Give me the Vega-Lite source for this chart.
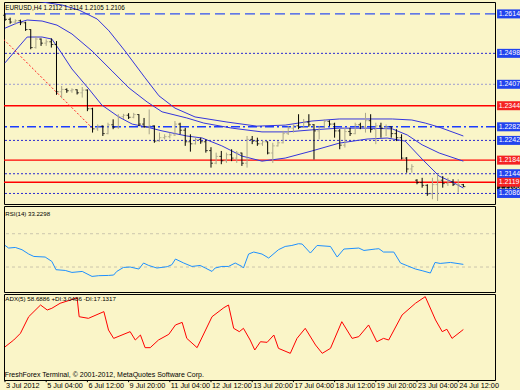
{
"$schema":"https://vega.github.io/schema/vega-lite/v6.json",
"background":"#FAF5C8",
"padding":{"left":2,"top":1,"right":0,"bottom":0},
"bounds":"flush",
"spacing":2,
"config":{"view":{"stroke":"#000000","strokeWidth":1,"fill":"#FAF5C8"},"font":"Liberation Sans"},
"datasets":{
"candles":[
{"i":0,"o":1.2610,"h":1.2615,"l":1.2593,"c":1.2598},
{"i":1,"o":1.2598,"h":1.2603,"l":1.2585,"c":1.2590},
{"i":2,"o":1.2590,"h":1.2598,"l":1.2583,"c":1.2594},
{"i":3,"o":1.2594,"h":1.2597,"l":1.2581,"c":1.2588},
{"i":4,"o":1.2588,"h":1.2591,"l":1.2564,"c":1.2568},
{"i":5,"o":1.2568,"h":1.2569,"l":1.2510,"c":1.2515},
{"i":6,"o":1.2515,"h":1.2549,"l":1.2512,"c":1.2540},
{"i":7,"o":1.2540,"h":1.2542,"l":1.2520,"c":1.2528},
{"i":8,"o":1.2528,"h":1.2539,"l":1.2520,"c":1.2532},
{"i":9,"o":1.2532,"h":1.2542,"l":1.2515,"c":1.2524},
{"i":10,"o":1.2524,"h":1.2534,"l":1.2376,"c":1.2385},
{"i":11,"o":1.2385,"h":1.2402,"l":1.2366,"c":1.2392},
{"i":12,"o":1.2392,"h":1.2395,"l":1.2382,"c":1.2388},
{"i":13,"o":1.2388,"h":1.2395,"l":1.2382,"c":1.2391},
{"i":14,"o":1.2391,"h":1.2392,"l":1.2377,"c":1.2382},
{"i":15,"o":1.2382,"h":1.2399,"l":1.2368,"c":1.2390},
{"i":16,"o":1.2390,"h":1.2392,"l":1.2328,"c":1.2335},
{"i":17,"o":1.2335,"h":1.2338,"l":1.2265,"c":1.2276},
{"i":18,"o":1.2276,"h":1.2289,"l":1.2270,"c":1.2284},
{"i":19,"o":1.2284,"h":1.2286,"l":1.2255,"c":1.2262},
{"i":20,"o":1.2262,"h":1.2294,"l":1.2260,"c":1.2288},
{"i":21,"o":1.2288,"h":1.2304,"l":1.2275,"c":1.2281},
{"i":22,"o":1.2281,"h":1.2319,"l":1.2276,"c":1.2312},
{"i":23,"o":1.2312,"h":1.2320,"l":1.2305,"c":1.2316},
{"i":24,"o":1.2316,"h":1.2322,"l":1.2305,"c":1.2310},
{"i":25,"o":1.2310,"h":1.2323,"l":1.2307,"c":1.2318},
{"i":26,"o":1.2318,"h":1.2319,"l":1.2284,"c":1.2290},
{"i":27,"o":1.2290,"h":1.2308,"l":1.2279,"c":1.2282},
{"i":28,"o":1.2282,"h":1.2333,"l":1.2260,"c":1.2285},
{"i":29,"o":1.2285,"h":1.2286,"l":1.2235,"c":1.2240},
{"i":30,"o":1.2240,"h":1.2265,"l":1.2238,"c":1.2250},
{"i":31,"o":1.2250,"h":1.2260,"l":1.2245,"c":1.2253},
{"i":32,"o":1.2253,"h":1.2265,"l":1.2248,"c":1.2258},
{"i":33,"o":1.2258,"h":1.2299,"l":1.2255,"c":1.2290},
{"i":34,"o":1.2290,"h":1.2294,"l":1.2260,"c":1.2272},
{"i":35,"o":1.2272,"h":1.2279,"l":1.2226,"c":1.2238},
{"i":36,"o":1.2238,"h":1.2260,"l":1.2209,"c":1.2232},
{"i":37,"o":1.2232,"h":1.2250,"l":1.2230,"c":1.2245},
{"i":38,"o":1.2245,"h":1.2250,"l":1.2232,"c":1.2238},
{"i":39,"o":1.2238,"h":1.2245,"l":1.2206,"c":1.2212},
{"i":40,"o":1.2212,"h":1.2222,"l":1.2162,"c":1.2175},
{"i":41,"o":1.2175,"h":1.2206,"l":1.2172,"c":1.2195},
{"i":42,"o":1.2195,"h":1.2211,"l":1.2172,"c":1.2182},
{"i":43,"o":1.2182,"h":1.2206,"l":1.2176,"c":1.2200},
{"i":44,"o":1.2200,"h":1.2216,"l":1.2181,"c":1.2190},
{"i":45,"o":1.2190,"h":1.2211,"l":1.2176,"c":1.2205},
{"i":46,"o":1.2205,"h":1.2206,"l":1.2167,"c":1.2175},
{"i":47,"o":1.2175,"h":1.2255,"l":1.2162,"c":1.2245},
{"i":48,"o":1.2245,"h":1.2255,"l":1.2231,"c":1.2240},
{"i":49,"o":1.2240,"h":1.2250,"l":1.2226,"c":1.2232},
{"i":50,"o":1.2232,"h":1.2242,"l":1.2226,"c":1.2238},
{"i":51,"o":1.2238,"h":1.2239,"l":1.2201,"c":1.2205},
{"i":52,"o":1.2205,"h":1.2235,"l":1.2176,"c":1.2226},
{"i":53,"o":1.2226,"h":1.2240,"l":1.2224,"c":1.2235},
{"i":54,"o":1.2235,"h":1.2270,"l":1.2233,"c":1.2262},
{"i":55,"o":1.2262,"h":1.2284,"l":1.2258,"c":1.2278},
{"i":56,"o":1.2278,"h":1.2289,"l":1.2265,"c":1.2285},
{"i":57,"o":1.2285,"h":1.2319,"l":1.2275,"c":1.2280},
{"i":58,"o":1.2280,"h":1.2305,"l":1.2279,"c":1.2296},
{"i":59,"o":1.2296,"h":1.2319,"l":1.2282,"c":1.2288},
{"i":60,"o":1.2288,"h":1.2290,"l":1.2186,"c":1.2270},
{"i":61,"o":1.2270,"h":1.2284,"l":1.2245,"c":1.2280},
{"i":62,"o":1.2280,"h":1.2304,"l":1.2278,"c":1.2298},
{"i":63,"o":1.2298,"h":1.2301,"l":1.2284,"c":1.2290},
{"i":64,"o":1.2290,"h":1.2294,"l":1.2250,"c":1.2270},
{"i":65,"o":1.2270,"h":1.2275,"l":1.2216,"c":1.2228},
{"i":66,"o":1.2228,"h":1.2279,"l":1.2221,"c":1.2268},
{"i":67,"o":1.2268,"h":1.2279,"l":1.2255,"c":1.2262},
{"i":68,"o":1.2262,"h":1.2294,"l":1.2260,"c":1.2288},
{"i":69,"o":1.2288,"h":1.2294,"l":1.2275,"c":1.2282},
{"i":70,"o":1.2282,"h":1.2323,"l":1.2265,"c":1.2300},
{"i":71,"o":1.2300,"h":1.2319,"l":1.2265,"c":1.2274},
{"i":72,"o":1.2274,"h":1.2294,"l":1.2231,"c":1.2285},
{"i":73,"o":1.2285,"h":1.2294,"l":1.2250,"c":1.2278},
{"i":74,"o":1.2278,"h":1.2289,"l":1.2255,"c":1.2282},
{"i":75,"o":1.2282,"h":1.2283,"l":1.2250,"c":1.2262},
{"i":76,"o":1.2262,"h":1.2275,"l":1.2240,"c":1.2250},
{"i":77,"o":1.2250,"h":1.2260,"l":1.2186,"c":1.2190},
{"i":78,"o":1.2190,"h":1.2193,"l":1.2147,"c":1.2158},
{"i":79,"o":1.2158,"h":1.2172,"l":1.2147,"c":1.2165},
{"i":80,"o":1.2125,"h":1.2128,"l":1.2113,"c":1.2118},
{"i":81,"o":1.2118,"h":1.2132,"l":1.2103,"c":1.2110},
{"i":82,"o":1.2110,"h":1.2113,"l":1.2079,"c":1.2085},
{"i":83,"o":1.2085,"h":1.2132,"l":1.2069,"c":1.2112},
{"i":84,"o":1.2112,"h":1.2142,"l":1.2064,"c":1.2125},
{"i":85,"o":1.2125,"h":1.2137,"l":1.2103,"c":1.2115},
{"i":86,"o":1.2115,"h":1.2132,"l":1.2108,"c":1.2120},
{"i":87,"o":1.2120,"h":1.2128,"l":1.2108,"c":1.2112},
{"i":88,"o":1.2112,"h":1.2128,"l":1.2088,"c":1.2112},
{"i":89,"o":1.2112,"h":1.2114,"l":1.2105,"c":1.2106}
],
"bands":[
{"band":"upper","i":0,"v":1.2670},{"band":"upper","i":3.3,"v":1.2655},{"band":"upper","i":7.2,"v":1.2649},{"band":"upper","i":11.1,"v":1.2640},{"band":"upper","i":14.4,"v":1.2625},{"band":"upper","i":17.9,"v":1.2599},{"band":"upper","i":20.2,"v":1.2564},{"band":"upper","i":23.3,"v":1.2505},{"band":"upper","i":27.2,"v":1.2426},{"band":"upper","i":29.9,"v":1.2373},{"band":"upper","i":33,"v":1.2337},{"band":"upper","i":36.9,"v":1.2311},{"band":"upper","i":43.1,"v":1.2296},{"band":"upper","i":48.9,"v":1.2284},{"band":"upper","i":54.4,"v":1.2287},{"band":"upper","i":59.6,"v":1.2299},{"band":"upper","i":64.9,"v":1.2305},{"band":"upper","i":70.3,"v":1.2305},{"band":"upper","i":75.2,"v":1.2305},{"band":"upper","i":79,"v":1.2302},{"band":"upper","i":81.6,"v":1.2293},{"band":"upper","i":84.3,"v":1.2281},{"band":"upper","i":89,"v":1.2255},
{"band":"middle","i":0,"v":1.2572},{"band":"middle","i":2.3,"v":1.2587},{"band":"middle","i":4.3,"v":1.2596},{"band":"middle","i":7.2,"v":1.2593},{"band":"middle","i":10.1,"v":1.2581},{"band":"middle","i":13,"v":1.2555},{"band":"middle","i":16.9,"v":1.2505},{"band":"middle","i":20.8,"v":1.2446},{"band":"middle","i":24.1,"v":1.2396},{"band":"middle","i":27.6,"v":1.2355},{"band":"middle","i":30.5,"v":1.2326},{"band":"middle","i":35.3,"v":1.2308},{"band":"middle","i":38.6,"v":1.2293},{"band":"middle","i":44.1,"v":1.2278},{"band":"middle","i":49.9,"v":1.2267},{"band":"middle","i":54.8,"v":1.2267},{"band":"middle","i":59.6,"v":1.2273},{"band":"middle","i":64.9,"v":1.2278},{"band":"middle","i":70.3,"v":1.2278},{"band":"middle","i":75.2,"v":1.2276},{"band":"middle","i":78.1,"v":1.2258},{"band":"middle","i":81,"v":1.2229},{"band":"middle","i":84.3,"v":1.2205},{"band":"middle","i":89,"v":1.2181},
{"band":"lower","i":0,"v":1.2470},{"band":"lower","i":2.3,"v":1.2511},{"band":"lower","i":4.3,"v":1.2546},{"band":"lower","i":7.2,"v":1.2546},{"band":"lower","i":9.1,"v":1.2540},{"band":"lower","i":10.7,"v":1.2505},{"band":"lower","i":13,"v":1.2452},{"band":"lower","i":16.3,"v":1.2393},{"band":"lower","i":18.8,"v":1.2346},{"band":"lower","i":22.1,"v":1.2311},{"band":"lower","i":24.7,"v":1.2290},{"band":"lower","i":27.6,"v":1.2281},{"band":"lower","i":30.5,"v":1.2270},{"band":"lower","i":35.3,"v":1.2255},{"band":"lower","i":38.3,"v":1.2249},{"band":"lower","i":42.1,"v":1.2226},{"band":"lower","i":46,"v":1.2196},{"band":"lower","i":49.9,"v":1.2181},{"band":"lower","i":54.4,"v":1.2190},{"band":"lower","i":59.6,"v":1.2211},{"band":"lower","i":64.9,"v":1.2234},{"band":"lower","i":70.3,"v":1.2246},{"band":"lower","i":74.2,"v":1.2249},{"band":"lower","i":77.7,"v":1.2240},{"band":"lower","i":81,"v":1.2187},{"band":"lower","i":84.3,"v":1.2137},{"band":"lower","i":86.8,"v":1.2120},{"band":"lower","i":89,"v":1.2102}
],
"trend":[{"i":-0.25,"v":1.2539},{"i":16.9,"v":1.2279}],
"levels":[
{"price":1.2106,"kind":"last"},
{"price":1.2614,"kind":"dash"},
{"price":1.2498,"kind":"dot"},
{"price":1.2407,"kind":"grey"},
{"price":1.2344,"kind":"red"},
{"price":1.2282,"kind":"dashdot"},
{"price":1.2242,"kind":"dot"},
{"price":1.2184,"kind":"red"},
{"price":1.2144,"kind":"dot"},
{"price":1.2119,"kind":"red"},
{"price":1.2086,"kind":"dot"}
],
"rsi":[
{"i":0,"v":56},{"i":0.7,"v":52.8},{"i":2,"v":53.5},{"i":3.3,"v":50.8},{"i":4.6,"v":45.6},{"i":5.6,"v":42.7},{"i":7.8,"v":42},{"i":9.1,"v":36.7},{"i":9.9,"v":26.8},{"i":11.7,"v":25.9},{"i":13,"v":23.5},{"i":15,"v":24.7},{"i":16.9,"v":18.7},{"i":18.2,"v":19.6},{"i":20.1,"v":19.9},{"i":21.1,"v":20.4},{"i":21.7,"v":24.7},{"i":23,"v":29.5},{"i":24.3,"v":30},{"i":26,"v":27.6},{"i":26.9,"v":34.8},{"i":27.9,"v":31.9},{"i":29.5,"v":28.8},{"i":31.5,"v":30.4},{"i":32.4,"v":32.8},{"i":33.1,"v":39.6},{"i":34.7,"v":34.8},{"i":36.3,"v":30.7},{"i":37.9,"v":31.9},{"i":38.9,"v":28.8},{"i":40.2,"v":24.7},{"i":40.8,"v":28.8},{"i":42.1,"v":30.7},{"i":43.4,"v":30.7},{"i":44.7,"v":34.8},{"i":46,"v":30.7},{"i":46.3,"v":28.8},{"i":47.3,"v":45.6},{"i":48.3,"v":48},{"i":49.9,"v":45.6},{"i":51.2,"v":40.8},{"i":53.1,"v":50.8},{"i":54.4,"v":54.7},{"i":55.7,"v":55.9},{"i":57,"v":58},{"i":57.7,"v":57.6},{"i":59.3,"v":46.8},{"i":60.6,"v":55.9},{"i":63.2,"v":54.7},{"i":64.5,"v":42},{"i":65.8,"v":51.6},{"i":68.7,"v":52.8},{"i":69.7,"v":49.9},{"i":71.9,"v":51.6},{"i":72.6,"v":52},{"i":73.5,"v":48},{"i":75.5,"v":48},{"i":76.8,"v":34.8},{"i":78.1,"v":31.6},{"i":79.7,"v":27.6},{"i":81,"v":25.6},{"i":82.6,"v":22.8},{"i":83.5,"v":35.5},{"i":84.5,"v":34.3},{"i":86.5,"v":35.5},{"i":89,"v":33.2}
],
"rsiLevels":[{"lvl":30},{"lvl":70}],
"adx":[
{"i":0,"v":38.5},{"i":1.7,"v":46.5},{"i":3,"v":54.3},{"i":4.6,"v":73.6},{"i":6.9,"v":87.2},{"i":8.2,"v":81.4},{"i":9.1,"v":83.4},{"i":10.7,"v":89.2},{"i":12.7,"v":93},{"i":14,"v":95.7},{"i":14.4,"v":73.6},{"i":16.2,"v":71.7},{"i":19.2,"v":79.5},{"i":20.1,"v":58.1},{"i":21.1,"v":48.4},{"i":24.3,"v":56.2},{"i":25.3,"v":46.5},{"i":26.3,"v":52.3},{"i":27.2,"v":37.6},{"i":28.2,"v":37.6},{"i":29.8,"v":46.5},{"i":31.8,"v":53.1},{"i":33.1,"v":64},{"i":34.4,"v":67},{"i":35.3,"v":48.4},{"i":37.3,"v":37.6},{"i":40.2,"v":73.6},{"i":42.5,"v":84.1},{"i":43.4,"v":87.2},{"i":44.4,"v":60.1},{"i":45.5,"v":56.2},{"i":46.3,"v":60.1},{"i":47.6,"v":46.5},{"i":48.5,"v":34.9},{"i":49.6,"v":44.5},{"i":50.9,"v":43.8},{"i":52.2,"v":52.3},{"i":53.1,"v":36.8},{"i":55.4,"v":31},{"i":56.7,"v":48.4},{"i":58.3,"v":60.1},{"i":60.3,"v":40.7},{"i":61.6,"v":31},{"i":63.2,"v":36.8},{"i":65.4,"v":67.8},{"i":67.4,"v":48.4},{"i":68.7,"v":50.4},{"i":70.6,"v":64},{"i":72.2,"v":44.5},{"i":73.5,"v":48.4},{"i":74.5,"v":46.5},{"i":77.1,"v":75.6},{"i":79.7,"v":89.2},{"i":81.6,"v":96.9},{"i":83.6,"v":69.8},{"i":84.9,"v":56.2},{"i":85.8,"v":59},{"i":86.8,"v":48.4},{"i":89,"v":58.7}
],
"xlabels":[
{"i":0,"t":"3 Jul 2012"},{"i":8,"t":"5 Jul 04:00"},{"i":16,"t":"6 Jul 12:00"},{"i":24,"t":"9 Jul 20:00"},{"i":32,"t":"11 Jul 04:00"},{"i":40,"t":"12 Jul 12:00"},{"i":48,"t":"13 Jul 20:00"},{"i":56,"t":"17 Jul 04:00"},{"i":64,"t":"18 Jul 12:00"},{"i":72,"t":"19 Jul 20:00"},{"i":80,"t":"23 Jul 04:00"},{"i":88,"t":"24 Jul 12:00"}
],
"notes":[{"t":"x"}]
},
"resolve":{"scale":{"x":"independent","y":"independent","color":"independent"}},
"vconcat":[
{
"width":491,"height":202,
"layer":[
{"data":{"name":"levels"},"transform":[{"filter":"datum.kind == 'dot'"}],"mark":{"type":"rule","color":"#2a2ad0","strokeDash":[2,2],"strokeWidth":1},"encoding":{"y":{"field":"price","type":"quantitative","scale":{"domain":[1.2055,1.2649],"nice":false,"zero":false},"axis":null}}},
{"data":{"name":"levels"},"transform":[{"filter":"datum.kind == 'grey'"}],"mark":{"type":"rule","color":"#9c9cd0","strokeDash":[2,2],"strokeWidth":1},"encoding":{"y":{"field":"price","type":"quantitative","scale":{"domain":[1.2055,1.2649],"nice":false,"zero":false},"axis":null}}},
{"data":{"name":"levels"},"transform":[{"filter":"datum.kind == 'dash'"}],"mark":{"type":"rule","color":"#3050f0","strokeDash":[10,5],"strokeWidth":1.2},"encoding":{"y":{"field":"price","type":"quantitative","scale":{"domain":[1.2055,1.2649],"nice":false,"zero":false},"axis":null}}},
{"data":{"name":"levels"},"transform":[{"filter":"datum.kind == 'dashdot'"}],"mark":{"type":"rule","color":"#1a3cff","strokeDash":[9,3,2,3],"strokeWidth":1.5},"encoding":{"y":{"field":"price","type":"quantitative","scale":{"domain":[1.2055,1.2649],"nice":false,"zero":false},"axis":null}}},
{"data":{"name":"levels"},"transform":[{"filter":"datum.kind == 'red'"}],"mark":{"type":"rule","color":"#ff0000","strokeWidth":1.4},"encoding":{"y":{"field":"price","type":"quantitative","scale":{"domain":[1.2055,1.2649],"nice":false,"zero":false},"axis":null}}},
{"data":{"name":"bands"},"mark":{"type":"line","color":"#3535dc","strokeWidth":1,"clip":true},"encoding":{"x":{"field":"i","type":"quantitative","scale":{"domain":[-0.194,95.146],"nice":false,"zero":false},"axis":null},"y":{"field":"v","type":"quantitative","scale":{"domain":[1.2055,1.2649],"nice":false,"zero":false},"axis":null},"detail":{"field":"band"}}},
{"data":{"name":"trend"},"mark":{"type":"line","color":"#ff2020","strokeWidth":1,"strokeDash":[2,2],"clip":true},"encoding":{"x":{"field":"i","type":"quantitative","scale":{"domain":[-0.194,95.146],"nice":false,"zero":false},"axis":null},"y":{"field":"v","type":"quantitative","scale":{"domain":[1.2055,1.2649],"nice":false,"zero":false},"axis":null}}},
{"data":{"name":"candles"},"mark":{"type":"rule","strokeWidth":1},"encoding":{"x":{"field":"i","type":"quantitative","scale":{"domain":[-0.194,95.146],"nice":false,"zero":false},"axis":null},"y":{"field":"l","type":"quantitative","scale":{"domain":[1.2055,1.2649],"nice":false,"zero":false},"axis":{"orient":"right","title":null,"values":[1.2055,1.2120,1.2185,1.2250,1.2315,1.2380,1.2445,1.2510,1.2575,1.2640],"format":".4f","domain":false,"grid":false,"tickColor":"#000000","tickSize":3,"labelColor":"#000000","labelFontSize":7,"labelFont":"Liberation Sans","labelPadding":1,"labelFlush":false,"labelOverlap":false,"labelBound":false}},"y2":{"field":"h"},"color":{"condition":{"test":"datum.c < datum.o","value":"#000000"},"value":"#a8a48a"}}},
{"data":{"name":"candles"},"mark":{"type":"tick","orient":"horizontal","size":2,"thickness":1,"xOffset":-1},"encoding":{"x":{"field":"i","type":"quantitative","scale":{"domain":[-0.194,95.146],"nice":false,"zero":false},"axis":null},"y":{"field":"o","type":"quantitative","scale":{"domain":[1.2055,1.2649],"nice":false,"zero":false},"axis":null},"color":{"condition":{"test":"datum.c < datum.o","value":"#000000"},"value":"#a8a48a"}}},
{"data":{"name":"candles"},"mark":{"type":"tick","orient":"horizontal","size":2,"thickness":1,"xOffset":1},"encoding":{"x":{"field":"i","type":"quantitative","scale":{"domain":[-0.194,95.146],"nice":false,"zero":false},"axis":null},"y":{"field":"c","type":"quantitative","scale":{"domain":[1.2055,1.2649],"nice":false,"zero":false},"axis":null},"color":{"condition":{"test":"datum.c < datum.o","value":"#000000"},"value":"#a8a48a"}}},
{"data":{"name":"notes"},"mark":{"type":"text","text":"EURUSD,H4  1.2112 1.2114 1.2105 1.2106","align":"left","baseline":"middle","fontSize":6.3,"font":"Liberation Sans","color":"#000000"},"encoding":{"x":{"datum":0.06,"type":"quantitative","scale":{"domain":[-0.194,95.146],"nice":false,"zero":false},"axis":null},"y":{"datum":1.2631,"type":"quantitative","scale":{"domain":[1.2055,1.2649],"nice":false,"zero":false},"axis":null}}},
{"data":{"name":"levels"},"transform":[{"filter":"datum.kind == 'last'"}],"mark":{"type":"rule","strokeWidth":9,"strokeCap":"butt","color":"#111111"},"encoding":{"x":{"datum":95.55,"type":"quantitative","scale":{"domain":[-0.194,95.146],"nice":false,"zero":false},"axis":null},"x2":{"datum":100.2},"y":{"field":"price","type":"quantitative","scale":{"domain":[1.2055,1.2649],"nice":false,"zero":false},"axis":null}}},
{"data":{"name":"levels"},"transform":[{"filter":"datum.kind == 'last'"}],"mark":{"type":"text","align":"left","baseline":"middle","fontSize":7,"font":"Liberation Sans","color":"#ffffff"},"encoding":{"x":{"datum":95.85,"type":"quantitative","scale":{"domain":[-0.194,95.146],"nice":false,"zero":false},"axis":null},"y":{"field":"price","type":"quantitative","scale":{"domain":[1.2055,1.2649],"nice":false,"zero":false},"axis":null},"text":{"field":"price","type":"quantitative","format":".4f"}}},
{"data":{"name":"levels"},"transform":[{"filter":"datum.kind != 'last'"}],"mark":{"type":"rule","strokeWidth":9,"strokeCap":"butt"},"encoding":{"x":{"datum":95.55,"type":"quantitative","scale":{"domain":[-0.194,95.146],"nice":false,"zero":false},"axis":null},"x2":{"datum":100.2},"y":{"field":"price","type":"quantitative","scale":{"domain":[1.2055,1.2649],"nice":false,"zero":false},"axis":null},"color":{"field":"kind","type":"nominal","scale":{"domain":["dash","dot","grey","red","dashdot"],"range":["#2244ee","#2244ee","#2244ee","#f52222","#2244ee"]},"legend":null}}},
{"data":{"name":"levels"},"transform":[{"filter":"datum.kind != 'last'"}],"mark":{"type":"text","align":"left","baseline":"middle","fontSize":7,"font":"Liberation Sans","color":"#ffffff"},"encoding":{"x":{"datum":95.85,"type":"quantitative","scale":{"domain":[-0.194,95.146],"nice":false,"zero":false},"axis":null},"y":{"field":"price","type":"quantitative","scale":{"domain":[1.2055,1.2649],"nice":false,"zero":false},"axis":null},"text":{"field":"price","type":"quantitative","format":".4f"}}}
]
},
{
"width":491,"height":86,
"layer":[
{"data":{"name":"rsiLevels"},"mark":{"type":"rule","color":"#cbc6ad","strokeDash":[3,3],"strokeWidth":1},"encoding":{"y":{"field":"lvl","type":"quantitative","scale":{"domain":[0,103.3],"nice":false,"zero":false},"axis":null}}},
{"data":{"name":"rsi"},"mark":{"type":"line","color":"#1e90ff","strokeWidth":1,"clip":true},"encoding":{"x":{"field":"i","type":"quantitative","scale":{"domain":[-0.194,95.146],"nice":false,"zero":false},"axis":null},"y":{"field":"v","type":"quantitative","scale":{"domain":[0,103.3],"nice":false,"zero":false},"axis":{"orient":"right","title":null,"values":[0,30,70,100],"format":"d","domain":false,"grid":false,"tickColor":"#000000","tickSize":3,"labelColor":"#000000","labelFontSize":7,"labelFont":"Liberation Sans","labelPadding":1,"labelFlush":true,"labelOverlap":false}}}},
{"data":{"name":"notes"},"mark":{"type":"text","text":"RSI(14) 33.2298","align":"left","baseline":"middle","fontSize":6.1,"font":"Liberation Sans","color":"#000000"},"encoding":{"x":{"datum":0.06,"type":"quantitative","scale":{"domain":[-0.194,95.146],"nice":false,"zero":false},"axis":null},"y":{"datum":93.7,"type":"quantitative","scale":{"domain":[0,103.3],"nice":false,"zero":false},"axis":null}}}
]
},
{
"width":491,"height":86,
"layer":[
{"data":{"name":"adx"},"mark":{"type":"line","color":"#ff0000","strokeWidth":1,"clip":true},"encoding":{"x":{"field":"i","type":"quantitative","scale":{"domain":[-0.194,95.146],"nice":false,"zero":false},"axis":null},"y":{"field":"v","type":"quantitative","scale":{"domain":[0,100],"nice":false,"zero":false},"axis":{"orient":"right","title":null,"values":[0,23,47,70,94],"format":"d","domain":false,"grid":false,"tickColor":"#000000","tickSize":3,"labelColor":"#000000","labelFontSize":7,"labelFont":"Liberation Sans","labelPadding":1,"labelFlush":true,"labelOverlap":false}}}},
{"data":{"name":"xlabels"},"mark":{"type":"rule","color":"#000000","strokeWidth":1},"encoding":{"x":{"field":"i","type":"quantitative","scale":{"domain":[-0.194,95.146],"nice":false,"zero":false},"axis":null},"y":{"datum":0,"type":"quantitative","scale":{"domain":[0,100],"nice":false,"zero":false},"axis":null},"y2":{"datum":-2.5}}},
{"data":{"name":"xlabels"},"mark":{"type":"text","align":"left","baseline":"top","fontSize":7.3,"font":"Liberation Sans","color":"#000000","dx":1},"encoding":{"x":{"field":"i","type":"quantitative","scale":{"domain":[-0.194,95.146],"nice":false,"zero":false},"axis":null},"y":{"datum":-2.2,"type":"quantitative","scale":{"domain":[0,100],"nice":false,"zero":false},"axis":null},"text":{"field":"t"}}},
{"data":{"name":"notes"},"mark":{"type":"text","text":"ADX(5) 58.6886 +DI:3.0486 -DI:17.1317","align":"left","baseline":"middle","fontSize":6.2,"font":"Liberation Sans","color":"#000000"},"encoding":{"x":{"datum":0.06,"type":"quantitative","scale":{"domain":[-0.194,95.146],"nice":false,"zero":false},"axis":null},"y":{"datum":94.2,"type":"quantitative","scale":{"domain":[0,100],"nice":false,"zero":false},"axis":null}}},
{"data":{"name":"notes"},"mark":{"type":"text","text":"FreshForex Terminal, © 2001-2012, MetaQuotes Software Corp.","align":"left","baseline":"middle","fontSize":7,"font":"Liberation Sans","color":"#000000"},"encoding":{"x":{"datum":-0.06,"type":"quantitative","scale":{"domain":[-0.194,95.146],"nice":false,"zero":false},"axis":null},"y":{"datum":5.8,"type":"quantitative","scale":{"domain":[0,100],"nice":false,"zero":false},"axis":null}}}
]
}
]
}
